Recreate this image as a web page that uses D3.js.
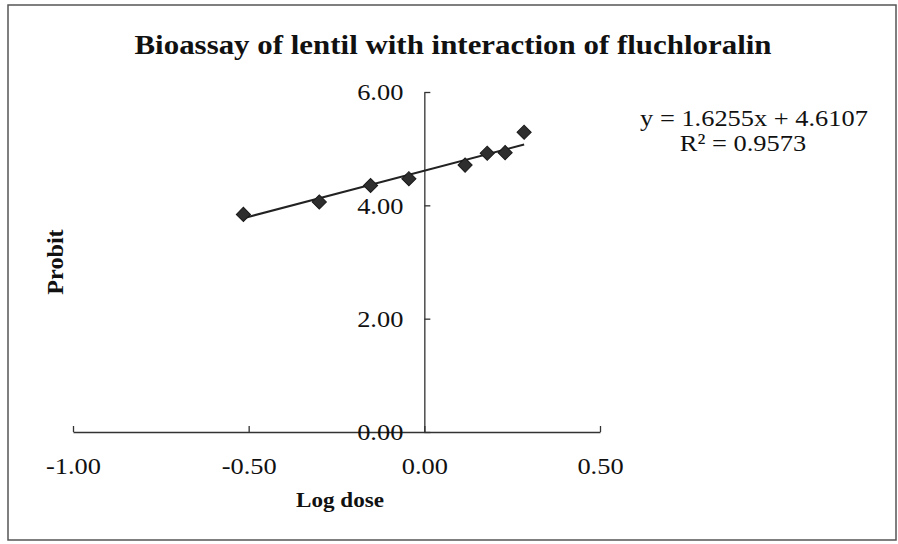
<!DOCTYPE html>
<html>
<head>
<meta charset="utf-8">
<script src="https://cdn.jsdelivr.net/npm/d3@7"></script>
<style>
  body { margin: 0; background: #fff; }
  svg { display: block; }
</style>
</head>
<body>
<div id="chart"></div>
<script>
// data
var log_dose = [-0.515, -0.299, -0.153, -0.044, 0.116, 0.179, 0.23, 0.284];
var probit = [3.84, 4.06, 4.35, 4.47, 4.71, 4.92, 4.93, 5.29];
var x_ticks = [-1.0, -0.5, 0.0, 0.5];
var y_ticks = [0, 2, 4, 6];
var trend_slope = 1.6255;
var trend_intercept = 4.6107;
var r_squared = 0.9573;

var width = 898,
  height = 544,
  font = "'Liberation Serif', 'Times New Roman', serif";

var svg = d3
  .select("#chart")
  .append("svg")
  .attr("width", width)
  .attr("height", height);

// the scanned text is a bit wider than the font, so stretch it sideways
function stretch(sel, factor) {
  sel.each(function () {
    var w = this.getComputedTextLength();
    d3.select(this)
      .attr("textLength", w * factor)
      .attr("lengthAdjust", "spacingAndGlyphs");
  });
}

// chart frame
svg
  .append("rect")
  .attr("x", 8)
  .attr("y", 5)
  .attr("width", 888)
  .attr("height", 535)
  .attr("fill", "#fff")
  .attr("stroke", "#555")
  .attr("stroke-width", 1.5);

var xScale = d3.scaleLinear().domain([-1, 0.5]).range([73, 600]);
var yScale = d3.scaleLinear().domain([0, 6]).range([432, 92]);

var xAxis = d3
  .axisBottom(xScale)
  .tickValues(x_ticks)
  .tickSizeInner(-6)
  .tickSizeOuter(0)
  .tickPadding(25)
  .tickFormat(d3.format(".2f"));

var yAxis = d3
  .axisLeft(yScale)
  .tickValues(y_ticks)
  .tickSizeInner(-6)
  .tickSizeOuter(0)
  .tickPadding(21)
  .tickFormat(d3.format(".2f"));

var gx = svg
  .append("g")
  .attr("transform", `translate(0,${yScale(0)})`)
  .call(xAxis);

var gy = svg
  .append("g")
  .attr("transform", `translate(${xScale(0)},0)`)
  .call(yAxis);

[gx, gy].forEach(function (g) {
  g.select(".domain").attr("stroke", "#333").attr("stroke-width", 1.3);
  g.selectAll(".tick line").attr("stroke", "#333").attr("stroke-width", 1.3);
  g.selectAll(".tick text")
    .attr("font-family", font)
    .attr("font-size", 24)
    .attr("fill", "#111");
});
gx.selectAll(".tick text").text(function (d) {
  return d3.format(".2f")(d).replace("−", "-");
});
stretch(gx.selectAll(".tick text"), 1.1);
stretch(gy.selectAll(".tick text"), 1.1);

// trend line
var x_min = d3.min(log_dose),
  x_max = d3.max(log_dose);
svg
  .append("line")
  .attr("x1", xScale(x_min))
  .attr("y1", yScale(trend_slope * x_min + trend_intercept))
  .attr("x2", xScale(x_max))
  .attr("y2", yScale(trend_slope * x_max + trend_intercept))
  .attr("stroke", "#222")
  .attr("stroke-width", 2);

// diamond markers
var diamond = d3.symbol().type(d3.symbolSquare).size(100);
svg
  .selectAll(".point")
  .data(log_dose)
  .enter()
  .append("path")
  .attr("class", "point")
  .attr("d", diamond)
  .attr("transform", function (d, i) {
    return `translate(${xScale(d)},${yScale(probit[i])}) rotate(45)`;
  })
  .attr("fill", "#2e2e2e")
  .attr("stroke", "#1a1a1a")
  .attr("stroke-width", 1);

// title
svg
  .append("text")
  .attr("x", 453)
  .attr("y", 54)
  .attr("text-anchor", "middle")
  .attr("font-family", font)
  .attr("font-size", 27)
  .attr("font-weight", "bold")
  .attr("fill", "#111")
  .attr("textLength", 637)
  .attr("lengthAdjust", "spacingAndGlyphs")
  .text("Bioassay of lentil with interaction of fluchloralin");

// axis titles
var xTitle = svg
  .append("text")
  .attr("x", 340)
  .attr("y", 507)
  .attr("text-anchor", "middle")
  .attr("font-family", font)
  .attr("font-size", 22)
  .attr("font-weight", "bold")
  .attr("fill", "#111")
  .text("Log dose");

var yTitle = svg
  .append("text")
  .attr("transform", "translate(63,262) rotate(-90)")
  .attr("text-anchor", "middle")
  .attr("font-family", font)
  .attr("font-size", 23)
  .attr("font-weight", "bold")
  .attr("fill", "#111")
  .text("Probit");
stretch(xTitle, 1.05);
stretch(yTitle, 1.05);

// trendline equation
var eq1 = svg
  .append("text")
  .attr("x", 754)
  .attr("y", 126)
  .attr("text-anchor", "middle")
  .attr("font-family", font)
  .attr("font-size", 24)
  .attr("fill", "#111")
  .text(`y = ${trend_slope}x + ${trend_intercept}`);
var eq2 = svg
  .append("text")
  .attr("x", 743)
  .attr("y", 151)
  .attr("text-anchor", "middle")
  .attr("font-family", font)
  .attr("font-size", 24)
  .attr("fill", "#111")
  .text(`R² = ${r_squared}`);
stretch(eq1, 1.1);
stretch(eq2, 1.1);
</script>
</body>
</html>
